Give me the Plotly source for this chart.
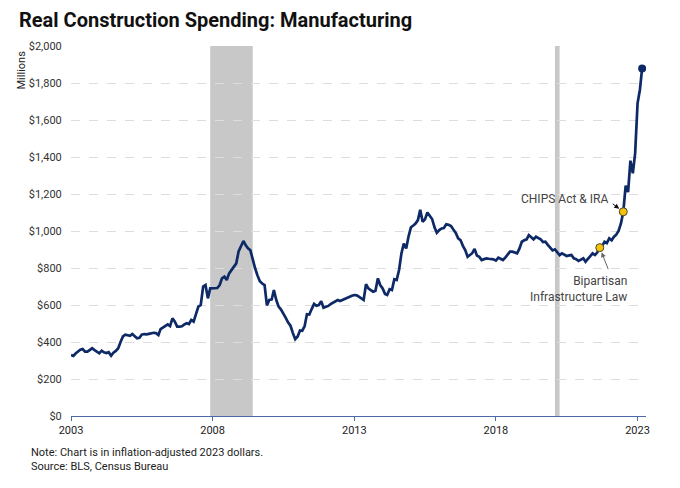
import plotly.graph_objects as go
import pandas as pd

# Monthly real construction spending, manufacturing ($ millions), Jan 2003 - Mar 2023
start_month = "2003-01-01"
spending = [
    # 2003
    330, 325, 338, 350, 358, 362, 348, 348, 358, 366, 356, 348,
    # 2004
    339, 353, 344, 340, 345, 326, 342, 352, 366, 400, 430, 440,
    # 2005
    438, 434, 443, 429, 420, 423, 440, 443, 441, 444, 447, 450,
    # 2006
    448, 438, 470, 478, 483, 495, 486, 528, 510, 483, 483, 485,
    # 2007
    495, 501, 497, 519, 510, 551, 591, 600, 700, 708, 636, 690,
    # 2008
    690, 688, 692, 708, 744, 753, 735, 771, 790, 807, 825, 890,
    # 2009
    920, 946, 924, 906, 897, 840, 800, 760, 728, 716, 708, 598,
    # 2010
    627, 630, 681, 627, 591, 575, 555, 530, 505, 488, 448, 415,
    # 2011
    430, 462, 461, 485, 550, 548, 578, 606, 596, 600, 620, 585,
    # 2012
    590, 595, 605, 613, 618, 627, 622, 628, 636, 640, 645, 650,
    # 2013
    654, 652, 645, 635, 627, 712, 690, 681, 672, 677, 744, 708,
    # 2014
    690, 660, 654, 685, 681, 739, 735, 789, 880, 932, 906, 970,
    # 2015
    1020, 1030, 1040, 1059, 1115, 1050, 1063, 1100, 1085, 1065, 1020, 990,
    # 2016
    1005, 1014, 1016, 1036, 1034, 1027, 1008, 990, 960, 951, 920, 897,
    # 2017
    861, 872, 880, 903, 867, 860, 843, 848, 852, 850, 849, 847,
    # 2018
    840, 856, 850, 843, 856, 870, 888, 888, 885, 879, 906, 942,
    # 2019
    950, 955, 978, 965, 955, 969, 962, 955, 940, 942, 925, 912,
    # 2020
    895, 901, 885, 870, 879, 872, 865, 868, 870, 852, 848, 838,
    # 2021
    845, 852, 834, 850, 861, 879, 870, 885, 910, 918, 942, 935,
    # 2022
    960, 950, 968, 980, 1000, 1041, 1104, 1245, 1210, 1380, 1312, 1420,
    # 2023
    1690, 1765, 1879,
]
dates = pd.date_range(start_month, periods=len(spending), freq="MS")

# Events (marked on the series)
event_dates = ["2021-09-01", "2022-07-01"]
event_labels = ["Bipartisan<br>Infrastructure Law", "CHIPS Act & IRA"]

# Recessions
recessions = [("2007-12-01", "2009-06-01"), ("2020-02-01", "2020-04-01")]

y_ticks = [0, 200, 400, 600, 800, 1000, 1200, 1400, 1600, 1800, 2000]
y_tick_labels = ["$" + format(v, ",") for v in y_ticks]
x_ticks = ["2003-01-01", "2008-01-01", "2013-01-01", "2018-01-01", "2023-01-01"]
x_tick_labels = ["2003", "2008", "2013", "2018", "2023"]

NAVY = "#0d2a66"
FONT = "Roboto"

series = pd.Series(spending, index=dates)
event_vals = [series[pd.Timestamp(d)] for d in event_dates]

fig = go.Figure()
fig.add_trace(go.Scatter(
    x=dates, y=spending, mode="lines",
    line=dict(color=NAVY, width=2.7), hoverinfo="skip", showlegend=False,
))
fig.add_trace(go.Scatter(
    x=[dates[-1]], y=[spending[-1]], mode="markers",
    marker=dict(color=NAVY, size=8), showlegend=False,
))
fig.add_trace(go.Scatter(
    x=event_dates, y=event_vals, mode="markers",
    marker=dict(color="#f4c20d", size=8, line=dict(color="#4a4a2a", width=1)),
    showlegend=False,
))

for x0, x1 in recessions:
    fig.add_shape(type="rect", xref="x", yref="paper", x0=x0, x1=x1, y0=0, y1=1,
                  fillcolor="#c8c8c8", line=dict(width=0), layer="below")

# Arrows
fig.add_annotation(x=event_dates[1], y=event_vals[1], xref="x", yref="y",
                   text="", showarrow=True, ax=-12, ay=-9, arrowhead=2,
                   arrowsize=1, arrowwidth=1, arrowcolor="#111", standoff=5)
fig.add_annotation(x=event_dates[0], y=event_vals[0], xref="x", yref="y",
                   text="", showarrow=True, ax=9, ay=23, arrowhead=2,
                   arrowsize=1, arrowwidth=1, arrowcolor="#666", standoff=5)
# Labels
fig.add_annotation(x=event_dates[1], y=event_vals[1], xref="x", yref="y",
                   text=event_labels[1], showarrow=False, xanchor="right",
                   yanchor="middle", xshift=-13, yshift=13,
                   font=dict(family=FONT, size=12, color="#444"))
fig.add_annotation(x=event_dates[0], y=event_vals[0], xref="x", yref="y",
                   text=event_labels[0], showarrow=False, xanchor="right",
                   yanchor="top", align="right", xshift=29, yshift=-24,
                   font=dict(family=FONT, size=12, color="#444"))

# Axis title
fig.add_annotation(text="Millions", xref="paper", yref="paper", x=0, y=1,
                   xanchor="center", yanchor="top", xshift=-50, yshift=-3,
                   textangle=-90, showarrow=False,
                   font=dict(family=FONT, size=11, color="#222"))
# Footnotes
fig.add_annotation(text="Note: Chart is in inflation-adjusted 2023 dollars.<br>Source: BLS, Census Bureau",
                   xref="paper", yref="paper", x=0, y=0, xanchor="left", yanchor="top",
                   xshift=-42, yshift=-28, align="left", showarrow=False,
                   font=dict(family=FONT, size=11, color="#222"))

fig.update_layout(
    width=680, height=488,
    margin=dict(l=63, r=42, t=38, b=80),
    paper_bgcolor="white", plot_bgcolor="white",
    font=dict(family=FONT, size=11, color="#333"),
    title=dict(text="<b>Real Construction Spending: Manufacturing</b>",
               x=11 / 680, xanchor="left", xref="container",
               y=1 - 12 / 488, yanchor="middle", yref="container",
               font=dict(family=FONT, size=20, color="#111")),
    xaxis=dict(type="date", range=["2003-01-01", "2023-04-20"],
               tickvals=x_ticks, ticktext=x_tick_labels,
               showgrid=False, zeroline=False,
               showline=True, linecolor="#4a6aa8", linewidth=1.2,
               ticks="outside", ticklen=4, tickcolor="#4a6aa8",
               tickfont=dict(family=FONT, size=11, color="#222")),
    yaxis=dict(range=[0, 2000], tickvals=y_ticks, ticktext=y_tick_labels,
               showgrid=True, gridcolor="#dddddd", griddash="dash", gridwidth=1,
               zeroline=False, showline=False,
               ticks="outside", ticklen=6, tickcolor="rgba(0,0,0,0)",
               tickfont=dict(family=FONT, size=11, color="#333")),
)

fig.write_html("out.html")
